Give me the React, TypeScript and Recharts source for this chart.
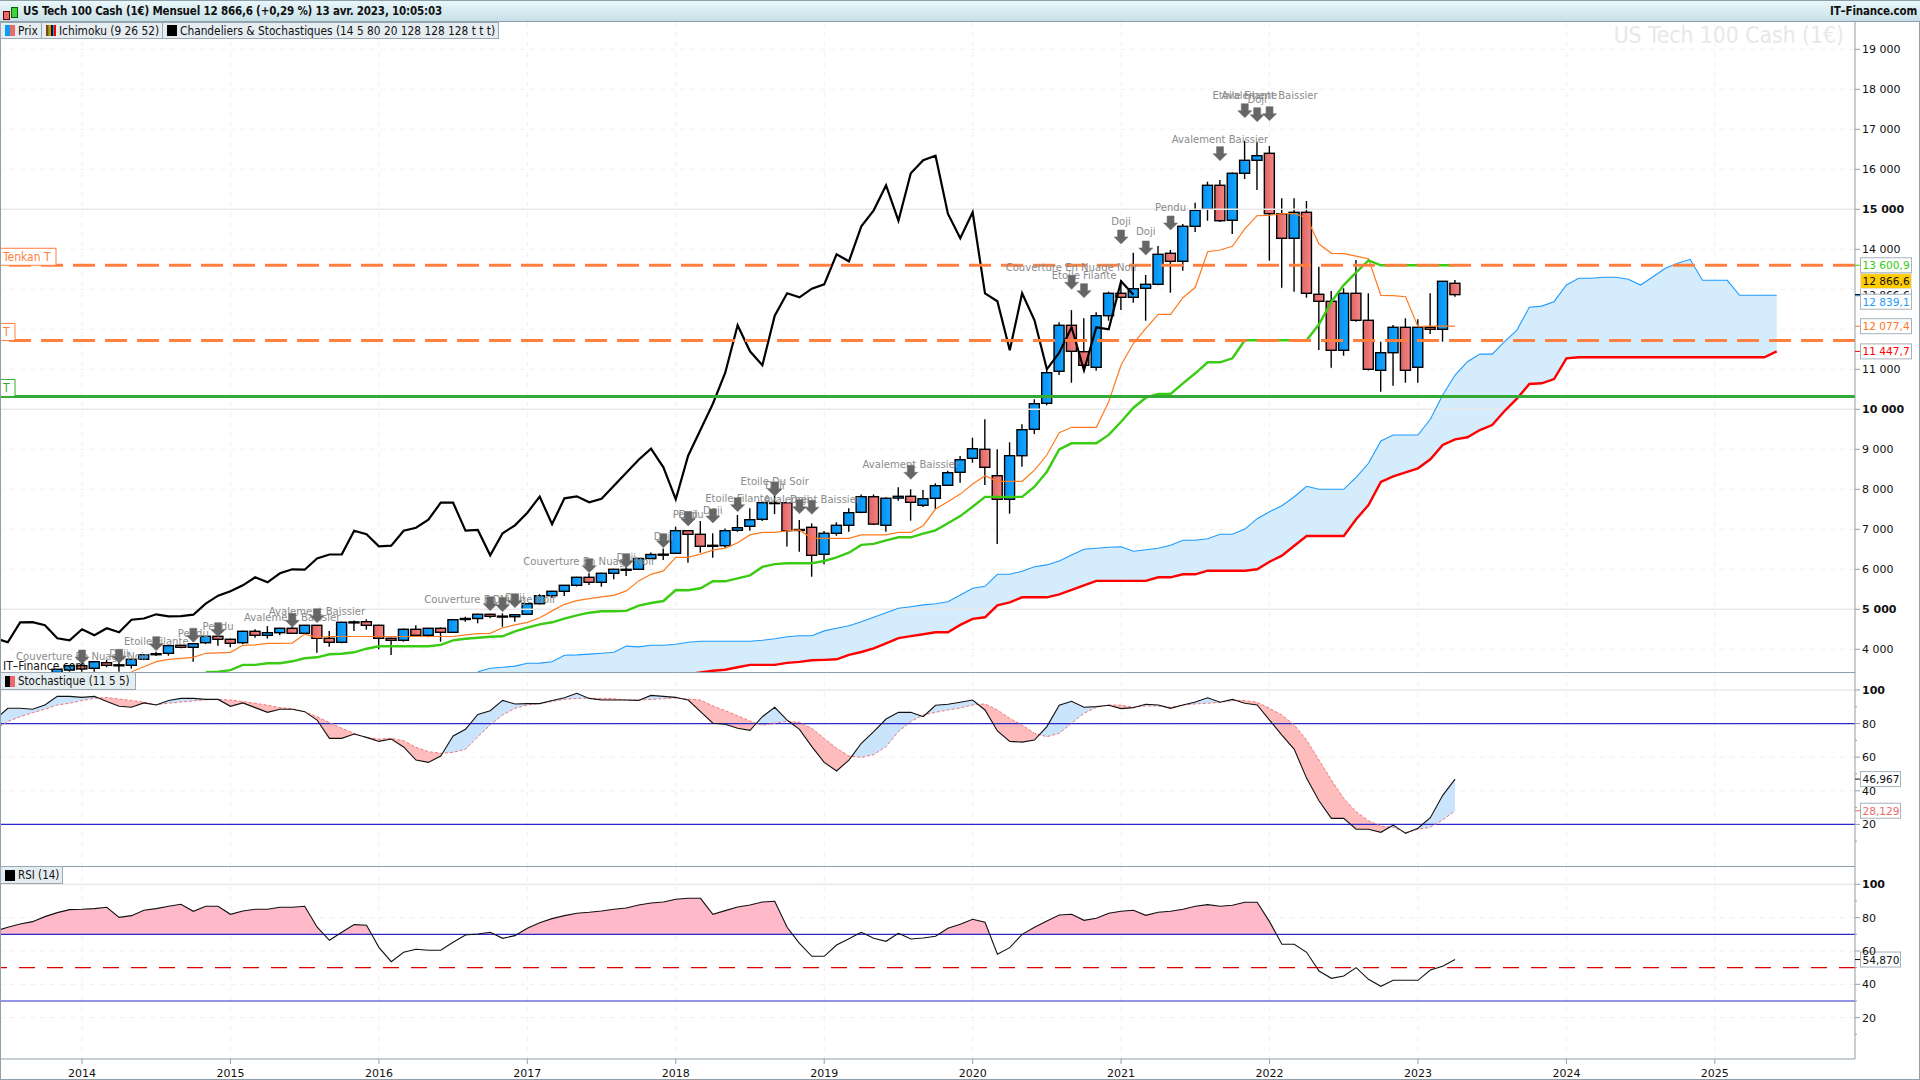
import React from "react";
import {
  Area, Bar, CartesianGrid, ComposedChart, Line, ReferenceDot, ReferenceLine, Scatter, XAxis, YAxis,
} from "recharts";

// months are counted from January 2014
const yearTicks = [0, 12, 24, 36, 48, 60, 72, 84, 96, 108, 120, 132];
const yearLabels = ["2014", "2015", "2016", "2017", "2018", "2019", "2020", "2021", "2022", "2023", "2024", "2025"];
const mainTicks = [4000, 5000, 6000, 7000, 8000, 9000, 10000, 11000, 14000, 15000, 16000, 17000, 18000, 19000];
const indicatorTicks = [10, 20, 30, 40, 50, 60, 70, 80, 90, 100];
const stochTicks = indicatorTicks;

const candleFirst = -2;
const opens = [3420,3480,3590,3525,3665,3608,3600,3750,3890,3900,4100,4050,4165,4325,4250,4165,4450,4350,4415,4525,4400,4600,4275,4175,4685,4690,4600,4275,4225,4500,4350,4525,4425,4745,4770,4875,4825,4815,4875,5140,5340,5450,5600,5800,5675,5900,6000,6000,6270,6375,6400,6965,6875,6600,6590,6975,7075,7250,7665,7665,6995,7050,6375,6900,7100,7425,7815,7100,7780,7825,7600,7775,8100,8425,8775,9000,8340,7750,8840,9500,10150,10950,12100,11440,11050,12340,12900,12800,13025,13125,13900,13700,14575,15000,15600,14725,15900,16225,16400,14890,14275,14925,12875,12700,11475,12900,12225,10975,11415,12050,11050,12050,12000,13150];
const closes = [3500,3590,3510,3690,3600,3612,3750,3865,3875,4090,4050,4140,4325,4250,4150,4450,4350,4415,4525,4400,4600,4275,4175,4675,4675,4600,4275,4225,4500,4350,4525,4425,4740,4770,4875,4825,4830,4865,5140,5340,5450,5600,5800,5675,5900,6000,5990,6270,6370,6378,6965,6875,6575,6590,6965,7040,7240,7665,7668,6965,6985,6350,6900,7100,7415,7815,7130,7775,7825,7675,7765,8090,8415,8740,9015,8550,7750,8840,9490,10140,10915,12100,11450,11100,12340,12900,12800,13015,13125,13875,13700,14575,14975,15600,14715,15900,16225,16340,14890,14275,14925,12900,12700,11475,12900,12225,11000,11415,12050,10975,12050,12000,13200,12866.6];
const highs = [3510,3610,3640,3700,3730,3730,3760,3875,3940,4100,4120,4150,4335,4340,4270,4465,4500,4580,4540,4570,4610,4610,4460,4690,4720,4750,4615,4290,4520,4600,4540,4545,4750,4815,4890,4890,4900,4880,5150,5375,5465,5610,5815,5900,5915,6015,6070,6285,6420,6520,7065,6980,7207,6900,7020,7357,7525,7680,7905,7680,7232,7150,6955,7175,7525,7870,7870,7800,8050,8000,7985,8150,8465,8830,9290,9750,9000,9175,9625,10250,11080,12175,12480,12275,12425,12940,13230,13915,13357,14085,13982,14635,15165,15690,15735,15920,16715,16690,16580,15275,15275,15207,13565,12960,13025,13730,12900,11690,12107,12275,12250,12900,13210,13235];
const lows = [3300,3440,3440,3440,3550,3440,3515,3730,3830,3840,4025,3690,4130,4090,4050,4130,4290,4270,4350,4390,4390,3915,4065,4150,4460,4490,4000,3860,4190,4310,4300,4190,4410,4690,4650,4775,4565,4690,4860,5120,5280,5335,5570,5610,5565,5750,5830,5990,6260,6230,6390,6165,6415,6290,6540,6940,6965,7210,7380,6567,6440,5815,6125,6840,6940,7400,7105,6940,7715,7215,7560,7500,8090,8165,8665,8110,6630,7390,8565,9380,10100,10860,10665,11000,10965,12215,12480,12665,12215,13100,12915,13465,14430,14715,14680,14380,15757,15480,13715,13040,12940,12790,11480,11040,11340,12190,10970,10440,10590,10665,10665,11880,11690,12815];

const tenkanFirst = 4;
const tenkan = [3440,3565,3690,3750,3775,3800,3900,3910,3925,4100,4110,4150,4150,4155,4380,4290,4320,4320,4320,4320,4320,4320,4320,4320,4320,4320,4320,4360,4390,4400,4540,4610,4675,4790,4960,5125,5215,5265,5310,5350,5460,5710,5875,5960,6300,6300,6380,6480,6530,6665,6860,6925,6925,6960,6985,6775,6775,6775,6775,6860,6860,6860,6925,6925,7090,7507,7690,7880,8130,8340,8200,8200,8200,8480,8857,9415,9550,9550,9550,10190,11107,11650,12025,12375,12375,12790,13050,13940,13982,14075,14510,14840,14850,14890,14890,14790,14130,13900,13890,13830,13765,12850,12840,12815,12065,12077,12077,12077];
const kijunFirst = 10;
const kijun = [3430,3440,3480,3610,3610,3650,3650,3700,3775,3800,3875,3890,3925,4015,4075,4075,4075,4075,4075,4110,4225,4265,4290,4315,4325,4450,4540,4625,4675,4765,4850,4915,4950,4950,4960,5090,5157,5207,5482,5475,5525,5700,5700,5775,5850,6060,6130,6150,6150,6150,6207,6300,6415,6610,6635,6725,6800,6800,6890,6975,7150,7330,7565,7810,7810,7810,7810,8065,8440,9000,9150,9150,9150,9360,9690,10040,10290,10382,10382,10650,10900,11175,11175,11275,11725,11725,11725,11725,11725,11725,12125,12690,13105,13425,13725,13600,13600,13600,13600,13600,13600,13600];
const chikouFirst = -7;
const chikou = [4275,4175,4675,4680,4600,4275,4225,4500,4350,4525,4425,4740,4770,4875,4825,4830,4865,5140,5340,5450,5600,5800,5675,5900,6000,5990,6270,6370,6375,6965,6875,6575,6590,6965,7040,7240,7665,7665,6965,6985,6350,6900,7100,7415,7815,7130,7775,7825,7675,7765,8090,8415,8740,9015,8550,7750,8840,9490,10140,10915,12100,11450,11100,12340,12900,12800,13015,13125,13875,13700,14575,14975,15600,14715,15900,16225,16340,14890,14275,14925,12900,12700,11475,12900,12225,11000,11415,12050,10975,12050,12000,13200,12866.6];
const spanAFirst = 32;
const spanA = [3440,3525,3550,3580,3650,3655,3690,3850,3860,3880,3900,3925,4080,4060,4100,4100,4125,4175,4200,4200,4200,4200,4200,4225,4265,4315,4340,4340,4460,4525,4590,4690,4800,4915,5025,5065,5110,5140,5190,5360,5525,5575,5875,5875,5950,6065,6110,6210,6360,6500,6525,6550,6565,6450,6490,6525,6600,6725,6725,6765,6875,6875,7005,7265,7440,7590,7815,8075,8000,8000,8000,8300,8650,9207,9357,9357,9357,9750,10357,10857,11190,11380,11380,11690,11980,12550,12580,12690,13107,13275,13275,13300,13300,13250,13107,13315,13525,13650,13750,13225,13225,13225,12850,12850,12850,12850];
const spanBFirst = 32;
const spanB = [2850,2860,2880,2900,2950,2970,3000,3020,3040,3100,3130,3160,3200,3230,3260,3300,3340,3380,3420,3465,3490,3550,3610,3610,3610,3660,3685,3725,3735,3750,3860,3932,4025,4150,4280,4330,4375,4425,4425,4610,4760,4800,5100,5175,5300,5300,5300,5375,5485,5600,5710,5710,5710,5710,5710,5800,5800,5875,5875,5965,5965,5965,5965,6000,6190,6340,6590,6832,6832,6832,6832,7250,7607,8182,8325,8425,8525,8750,9107,9250,9300,9482,9607,9957,10265,10632,10650,10757,11275,11300,11300,11300,11300,11300,11300,11300,11300,11300,11300,11300,11300,11300,11300,11300,11300,11447.7];

const patternMonths = [0,3,6,9,11,17,19,33,34,35,41,44,47,49,49,51,53,56,56,58,59,67,80,81,84,86,88,92,94,95,96];
const patternTips = [3632,3650,3966,4174,4316,4550,4666,4966,4940,5040,5916,6040,6540,7090,7090,7157,7440,7832,7832,7390,7375,8250,13000,12790,14133,13857,14482,16215,17290,17190,17215];
const patternLabelValues = [3833,3900,4208,4416,4583,4808,4958,5250,5250,5300,6200,6300,6833,7382,7382,7490,7780,8200,8107,7757,7757,8632,13550,13357,14707,14457,15057,16757,17857,17750,17857];
const patternTexts = ["Couverture En Nuage Noir","Doji","Etoile Filante","Pendu","Pendu","Avalement Baissier","Avalement Baissier","Couverture En Nuage Noir","Doji","Doji","Couverture En Nuage Noir","Doji","Doji","Pendu","Doji","Doji","Etoile Filante","Etoile Du Soir","Doji","Doji","Avalement Baissier","Avalement Baissier","Couverture En Nuage Noir","Etoile Filante","Doji","Doji","Pendu","Avalement Baissier","Etoile Filante","Doji","Avalement Baissier"];

const tenkanLevel = 13600.9;
const kijunLevel = 11722;
const greenLevel = 10322;

const stochFirst = -7;
const stochK = [82.5,89.1,89.1,88.5,91.1,96.2,96.2,95.6,96.2,93.1,90.3,89.7,92.3,91.1,93.8,95,95,94.4,94.4,90.3,92.3,89.5,86.7,88.5,88.5,87.1,82.1,71.2,71.2,73.8,71.8,69.4,70.8,66.1,58.3,56.9,60.7,72.6,76.6,85.5,87.7,93.8,91.7,91.9,91.9,93.7,95.4,98,95,94,94,94,93.8,96.8,96.2,95.6,94,87.1,80.2,79.6,77.2,76,84.1,89.7,82.1,76.6,66.3,56.9,51.8,58.3,68.3,75.2,82.7,86.7,86.7,84.1,90.9,91.5,92.7,94,88.1,75.6,69.4,69,70.2,78.2,90.9,93.3,89.7,90.1,90.9,88.9,89.5,91.5,91.1,89.1,91.1,92.9,95.4,92.7,94.4,92.1,91.1,82.1,73.2,64.7,47.4,34.1,23.6,23.6,17.1,17.1,15.3,19.6,14.7,17.7,24,37.3,46.967];
const stochD = [76.6,81.2,84.1,86.5,88.5,91.1,92.1,93.7,95,95.6,94.6,93.8,92.7,91.3,92.1,92.9,93.5,94.2,94.4,94,93.1,92.1,90.9,89.5,88.9,87.1,84.1,80.6,77.2,74.2,71.6,70.8,71.2,69.8,65.9,63.3,62.3,62.9,64.7,72.2,79.2,85.1,89.1,91.1,91.9,93.1,94.4,95,95,95,94.8,94,94,94.4,94.8,95.2,94.6,94,90.5,87.7,84.7,81.5,79,80.2,81.3,80.8,77.2,71.2,65.3,60.7,59.9,61.5,66.3,75.2,81.2,85.1,86.7,88.1,89.3,91.1,91.7,88.1,83.1,79.2,74.2,72.2,74.2,80.2,86.1,89.7,91.1,90.9,89.7,90.5,90.5,89.7,91.1,91.7,92.1,92.7,93.7,93.7,92.7,89.1,85.1,79.2,70.2,58.3,46.4,35.5,27.6,22.2,19,18.3,15.1,17.1,18.3,22.6,28.129];
const rsiFirst = -7;
const rsi = [72,74.2,76.2,77.6,80.6,83,84.8,85,85.4,86.2,80.2,81.2,84.4,85.4,86.8,88,83.8,86.8,86.8,82,84,85,85,86.2,86.2,86.8,74.4,66.4,71.2,75.8,75.4,62.2,53.6,59.2,61,60.4,60.4,65.2,69.6,70.2,71.2,67.6,69.2,73.6,77,79.4,81.2,82.6,83.2,84,85,85.8,87.6,88.8,89.4,91,91.6,91.6,82,84.2,86.4,87.6,89.4,89.8,74.2,64.6,56.8,56.8,63.6,67.4,71.2,67.6,65.8,70.6,67.2,67.8,68.8,73.6,76,79,77.2,58,62,70,74.2,78,81.6,82,78.4,79.6,82.6,83.8,84.4,81.4,83.2,83.8,85,86.8,87.8,86.8,87.4,89.2,89.2,77.6,64,64,59.2,48,43.6,45,50,43,38.8,42.4,42.4,42.4,48.6,50.8,54.87];
const rsiUpper = 70;
const rsiMiddle = 50;
const rsiLower = 30;
const stochUpper = 80;
const stochLower = 20;

const lastK = 46.967;
const lastD = 28.129;
const lastRsi = 54.87;
const lastClose = 12866.6;
const lastSpanA = 12839.1;
const lastTenkan = 12077.4;
const lastSpanB = 11447.7;
const lastKijun = 13600.9;

const lastMonth = 137;
const firstMonth = -7;
const xDomain = [-6.63, 143.33];

const at = (arr: number[], first: number, m: number) => {
  const v = arr[m - first];
  return v === undefined ? null : v;
};

const months: number[] = [];
for (let m = firstMonth; m <= lastMonth; m++) months.push(m);

const mainRows = months.map((m) => {
  const o = at(opens, candleFirst, m);
  const c = at(closes, candleFirst, m);
  const h = at(highs, candleFirst, m);
  const l = at(lows, candleFirst, m);
  const a = at(spanA, spanAFirst, m);
  const b = at(spanB, spanBFirst, m);
  return {
    m,
    open: o,
    close: c,
    high: h,
    low: l,
    candle: h === null ? null : [l, h],
    tenkan: at(tenkan, tenkanFirst, m),
    kijun: at(kijun, kijunFirst, m),
    chikou: at(chikou, chikouFirst, m),
    spanA: a,
    spanB: b,
    cloud: a === null || b === null ? null : [b, a],
  };
});

const patternRows = patternMonths.map((m, i) => ({ m, tip: patternTips[i], labelValue: patternLabelValues[i], text: patternTexts[i] }));

// rows of an indicator with extra rows where two of its curves cross, so the fills meet on the curves
function withCrossings(first: number, a: number[], b: (i: number) => number) {
  const rows: { m: number; a: number; b: number }[] = [];
  a.forEach((v, i) => {
    if (i > 0) {
      const d0 = a[i - 1] - b(i - 1);
      const d1 = v - b(i);
      if (d0 * d1 < 0) {
        const t = d0 / (d0 - d1);
        rows.push({ m: first + i - 1 + t, a: a[i - 1] + (v - a[i - 1]) * t, b: b(i - 1) + (b(i) - b(i - 1)) * t });
      }
    }
    rows.push({ m: first + i, a: v, b: b(i) });
  });
  return rows;
}

const stochRows = withCrossings(stochFirst, stochK, (i) => stochD[i]).map((r) => ({
  m: r.m, k: r.a, d: r.b, up: [r.b, Math.max(r.a, r.b)], down: [Math.min(r.a, r.b), r.b],
}));
const rsiRows = withCrossings(rsiFirst, rsi, () => rsiUpper).map((r) => ({
  m: r.m, rsi: r.a, over: [rsiUpper, Math.max(r.a, rsiUpper)],
}));

const axisFont = "'DejaVu Sans', sans-serif";
const uiFont = "'DejaVu Sans Condensed', 'Liberation Sans Narrow', 'DejaVu Sans', sans-serif";
const frame = "#8f9fa9";
const gridColor = "#f0f0f0";
const solidGrid = "#e9e9e9";

const fmt = (v: number) => String(v).replace(/\B(?=(\d{3})+$)/g, " ");

function AxisTick({ x, y, payload, bold, minor }: any) {
  const v = payload.value;
  const isMinor = minor && minor(v);
  return (
    <g>
      <line x1={x - 7} x2={x - 7 + (isMinor ? 2 : 5)} y1={y} y2={y} stroke="#8f9fa9" />
      {isMinor ? null : (
        <text x={x} y={y + 4} fontFamily={axisFont} fontSize={11} fontWeight={bold(v) ? 700 : 400} fill="#111">
          {fmt(v)}
        </text>
      )}
    </g>
  );
}

function YearTick({ x, y, payload }: any) {
  return (
    <g>
      <line x1={x} x2={x} y1={y - 8} y2={y - 3} stroke="#8f9fa9" />
      <text x={x} y={y + 10} textAnchor="middle" fontFamily={axisFont} fontSize={11} fill="#111">
        {yearLabels[yearTicks.indexOf(payload.value)]}
      </text>
    </g>
  );
}

function Candle(props: any) {
  const { x, y, width, height, payload } = props;
  if (!payload || payload.candle === null || payload.open === null) return null;
  const { open, close, high, low } = payload;
  const py = (v: number) => y + ((high - v) / (high - low)) * height;
  const up = close >= open;
  const top = py(Math.max(open, close));
  const bottom = py(Math.min(open, close));
  const cx = x + width / 2;
  return (
    <g>
      <line x1={cx} x2={cx} y1={y} y2={y + height} stroke="#000" strokeWidth={1.4} />
      <rect x={x} y={top} width={width} height={Math.max(bottom - top, 1)} fill={up ? "url(#blueBody)" : "url(#redBody)"} stroke="#000" strokeWidth={1.4} />
    </g>
  );
}

function Arrow({ cx, cy }: any) {
  return (
    <polygon
      points={`${cx - 3.5},${cy - 14} ${cx + 3.5},${cy - 14} ${cx + 3.5},${cy - 7} ${cx + 7},${cy - 7} ${cx},${cy} ${cx - 7},${cy - 7} ${cx - 3.5},${cy - 7}`}
      fill="#666"
      stroke="#777"
      strokeWidth={0.6}
    />
  );
}

function PatternLabel({ cx, cy, payload }: any) {
  return (
    <text x={cx} y={cy + 4} textAnchor="middle" fontFamily={uiFont} fontSize={11.2} fill="#8c8c8c">
      {payload.text}
    </text>
  );
}

function LevelBox({ cx, cy, label, color, width }: any) {
  return (
    <g>
      <rect x={cx} y={cy - 17} width={width} height={17} fill="#fff" stroke={color} />
      <text x={cx + 3} y={cy - 4} fontFamily={uiFont} fontSize={12} fill={color}>{label}</text>
    </g>
  );
}

function ValueTag({ cx, cy, text, color, dy = 0, w = 51, fill = "#f1f3f3", border = "#a5b3bb" }: any) {
  return (
    <g>
      <line x1={cx} x2={cx + 5} y1={cy} y2={cy} stroke={color} strokeWidth={1} />
      <rect x={cx + 5.5} y={cy + dy - 7.5} width={w} height={15} fill={fill} stroke={border} strokeWidth={1} />
      <text x={cx + 7.5} y={cy + dy + 4} fontFamily={axisFont} fontSize={10.6} fill={color}>{text}</text>
    </g>
  );
}

const Legend = ({ left, top, width, height, icon, text, size = 11.5 }: any) => (
  <div style={{ position: "absolute", left, top, width, height, boxSizing: "border-box", background: "#e5edf1", border: "1px solid #9aa9b3", display: "flex", alignItems: "center", fontFamily: uiFont, fontSize: size, color: "#111", whiteSpace: "nowrap", paddingLeft: 4 }}>
    <span style={{ display: "inline-flex", marginRight: 3 }}>
      {icon.map((c: string, i: number) => (
        <span key={i} style={{ display: "inline-block", width: 10 / icon.length, height: 11, background: c }} />
      ))}
    </span>
    {text}
  </div>
);

const Rule = ({ left, top, width, height }: any) => (
  <div style={{ position: "absolute", left, top, width, height, background: frame }} />
);

export default function App() {
  const xAxisHidden = <XAxis type="number" dataKey="m" domain={xDomain} ticks={yearTicks} hide allowDataOverflow />;
  return (
    <div style={{ position: "absolute", left: 0, top: 0, width: 1920, height: 1080, background: "#fff", overflow: "hidden" }}>
      <div style={{ position: "absolute", left: 0, top: 22 }}>
        <ComposedChart width={1920} height={650} data={mainRows} margin={{ top: 0, right: 0, bottom: 0, left: 0 }}>
          <defs>
            <linearGradient id="blueBody" x1="0" x2="1" y1="0" y2="0">
              <stop offset="0" stopColor="#0a8ff0" />
              <stop offset="1" stopColor="#12a6ff" />
            </linearGradient>
            <linearGradient id="redBody" x1="0" x2="1" y1="0" y2="0">
              <stop offset="0" stopColor="#dd6565" />
              <stop offset="1" stopColor="#f58585" />
            </linearGradient>
          </defs>
          <CartesianGrid stroke={gridColor} strokeDasharray="5 5" horizontalValues={mainTicks.concat([12000, 13000])} verticalValues={yearTicks} />
          {xAxisHidden}
          <YAxis orientation="right" type="number" width={65} domain={[3432.5, 19682.5]} ticks={mainTicks} interval={0} allowDataOverflow stroke={frame} tickSize={5} tickMargin={2} tickLine={false}
            tick={(p: any) => <AxisTick {...p} bold={(v: number) => v % 5000 === 0} />} />
          <ReferenceLine y={5000} stroke={solidGrid} strokeWidth={1.5} />
          <ReferenceLine y={10000} stroke={solidGrid} strokeWidth={1.5} />
          <ReferenceLine y={15000} stroke={solidGrid} strokeWidth={1.5} />
          <text x={1844} y={21} textAnchor="end" fontFamily={uiFont} fontSize={22.7} fill="#e8e8e8">US Tech 100 Cash (1€)</text>
          <Area dataKey="cloud" stroke="none" fill="#d4ecfc" fillOpacity={1} isAnimationActive={false} connectNulls={false} />
          <Line dataKey="spanA" stroke="#1e9bff" strokeWidth={1.1} dot={false} isAnimationActive={false} />
          <Line dataKey="spanB" stroke="#ff0000" strokeWidth={2.4} dot={false} isAnimationActive={false} />
          <Bar dataKey="candle" barSize={10} shape={Candle} isAnimationActive={false} />
          <Line dataKey="tenkan" stroke="#ff7a1f" strokeWidth={1.2} dot={false} isAnimationActive={false} />
          <Line dataKey="kijun" stroke="#3acb12" strokeWidth={2.4} dot={false} isAnimationActive={false} />
          <Line dataKey="chikou" stroke="#000" strokeWidth={2.2} dot={false} isAnimationActive={false} />
          <ReferenceLine y={tenkanLevel} stroke="#ff7f3f" strokeWidth={3} strokeDasharray="22 10" />
          <ReferenceLine y={kijunLevel} stroke="#ff7f3f" strokeWidth={3} strokeDasharray="22 10" />
          <ReferenceLine y={greenLevel} stroke="#33aa33" strokeWidth={3} />
          <Scatter data={patternRows} dataKey="labelValue" shape={PatternLabel} isAnimationActive={false} />
          <Scatter data={patternRows} dataKey="tip" shape={Arrow} isAnimationActive={false} />
          <ReferenceDot x={xDomain[0]} y={tenkanLevel} ifOverflow="visible" shape={(p: any) => <LevelBox {...p} label="Tenkan T" color="#ff7f3f" width={56} />} />
          <ReferenceDot x={xDomain[0]} y={kijunLevel} ifOverflow="visible" shape={(p: any) => <LevelBox {...p} label="T" color="#ff7f3f" width={15} />} />
          <ReferenceDot x={xDomain[0]} y={greenLevel} ifOverflow="visible" shape={(p: any) => <LevelBox {...p} label="T" color="#33aa33" width={15} />} />
          <ReferenceDot x={xDomain[1]} y={lastClose} ifOverflow="visible" shape={(p: any) => <ValueTag {...p} text="12 866,6" color="#111" />} />
          <ReferenceDot x={xDomain[1]} y={lastSpanA} ifOverflow="visible" shape={(p: any) => <ValueTag {...p} text="12 839,1" color="#1e9bff" dy={6} />} />
          <ReferenceDot x={xDomain[1]} y={lastClose} ifOverflow="visible" shape={(p: any) => <ValueTag {...p} text="12 866,6" color="#111" dy={-13.5} fill="#ffcc00" border="#e3e3e3" />} />
          <ReferenceDot x={xDomain[1]} y={lastKijun} ifOverflow="visible" shape={(p: any) => <ValueTag {...p} text="13 600,9" color="#33cc11" />} />
          <ReferenceDot x={xDomain[1]} y={lastTenkan} ifOverflow="visible" shape={(p: any) => <ValueTag {...p} text="12 077,4" color="#ff7722" />} />
          <ReferenceDot x={xDomain[1]} y={lastSpanB} ifOverflow="visible" shape={(p: any) => <ValueTag {...p} text="11 447,7" color="#ff0000" />} />
        </ComposedChart>
      </div>

      <div style={{ position: "absolute", left: 0, top: 672 }}>
        <ComposedChart width={1920} height={194} data={stochRows} margin={{ top: 0, right: 0, bottom: 0, left: 0 }}>
          <CartesianGrid stroke={gridColor} strokeDasharray="5 5" horizontalValues={[20, 40, 60, 80]} verticalValues={yearTicks} />
          {xAxisHidden}
          <YAxis orientation="right" type="number" width={65} domain={[-4.76, 110.71]} ticks={stochTicks} interval={0} allowDataOverflow stroke={frame} tickSize={5} tickMargin={2} tickLine={false}
            tick={(p: any) => <AxisTick {...p} bold={(v: number) => v === 100} minor={(v: number) => v % 20 !== 0} />} />
          <ReferenceLine y={100} stroke={solidGrid} strokeWidth={1.5} />
          <Area dataKey="up" stroke="none" fill="#c9e4fb" fillOpacity={1} isAnimationActive={false} />
          <Area dataKey="down" stroke="none" fill="#ffbcbc" fillOpacity={1} isAnimationActive={false} />
          <ReferenceLine y={stochUpper} stroke="#2a2acc" strokeWidth={1.2} />
          <ReferenceLine y={stochLower} stroke="#2a2acc" strokeWidth={1.2} />
          <Line dataKey="d" stroke="#ee7777" strokeWidth={1} strokeDasharray="3 2" dot={false} isAnimationActive={false} />
          <Line dataKey="k" stroke="#111" strokeWidth={1.1} dot={false} isAnimationActive={false} />
          <ReferenceDot x={xDomain[1]} y={lastK} ifOverflow="visible" shape={(p: any) => <ValueTag {...p} text="46,967" color="#111" w={40} />} />
          <ReferenceDot x={xDomain[1]} y={lastD} ifOverflow="visible" shape={(p: any) => <ValueTag {...p} text="28,129" color="#f06a6a" w={40} />} />
        </ComposedChart>
      </div>

      <div style={{ position: "absolute", left: 0, top: 866 }}>
        <ComposedChart width={1920} height={214} data={rsiRows} margin={{ top: 0, right: 0, bottom: 0, left: 0 }}>
          <CartesianGrid stroke={gridColor} strokeDasharray="5 5" horizontalValues={[20, 40, 60, 80]} verticalValues={yearTicks} />
          <XAxis type="number" dataKey="m" domain={xDomain} ticks={yearTicks} interval={0} allowDataOverflow height={21} tickSize={5} tickMargin={3} stroke={frame} tickLine={false} tick={(p: any) => <YearTick {...p} />} />
          <YAxis orientation="right" type="number" width={65} domain={[-4.8, 110.98]} ticks={indicatorTicks} interval={0} allowDataOverflow stroke={frame} tickSize={5} tickMargin={2} tickLine={false}
            tick={(p: any) => <AxisTick {...p} bold={(v: number) => v === 100} minor={(v: number) => v % 20 !== 0} />} />
          <ReferenceLine y={100} stroke={solidGrid} strokeWidth={1.5} />
          <Area dataKey="over" stroke="none" fill="#ffb9c9" fillOpacity={1} isAnimationActive={false} />
          <ReferenceLine y={rsiUpper} stroke="#2a2acc" strokeWidth={1.2} />
          <ReferenceLine y={rsiLower} stroke="#2a2acc" strokeWidth={1.2} />
          <ReferenceLine y={rsiMiddle} stroke="#e00000" strokeWidth={1.2} strokeDasharray="16 12" />
          <Line dataKey="rsi" stroke="#111" strokeWidth={1.1} dot={false} isAnimationActive={false} />
          <ReferenceDot x={xDomain[1]} y={lastRsi} ifOverflow="visible" shape={(p: any) => <ValueTag {...p} text="54,870" color="#111" w={40} />} />
        </ComposedChart>
      </div>

      {/* frame */}
      <Rule left={0} top={672} width={1855} height={1} />
      <Rule left={0} top={866} width={1855} height={1} />
      <Rule left={0} top={1079} width={1920} height={1} />
      <Rule left={0} top={22} width={1} height={1058} />
      <Rule left={1919} top={0} width={1} height={1080} />

      {/* header */}
      <div style={{ position: "absolute", left: 0, top: 0, width: 1920, height: 22, boxSizing: "border-box", borderTop: `1px solid ${frame}`, borderBottom: `1px solid ${frame}`, background: "linear-gradient(#e9f7fb,#c8dfe8)", fontFamily: uiFont, fontSize: 11.5, letterSpacing: -0.18, fontWeight: 700, color: "#111", lineHeight: "20px" }}>
        <span style={{ position: "absolute", left: 3, top: 10, width: 5, height: 7, background: "#e86a6a", border: "1px solid #600" }} />
        <span style={{ position: "absolute", left: 11, top: 6, width: 5, height: 9, background: "#44d040", border: "1px solid #060" }} />
        <span style={{ position: "absolute", left: 23, top: 0 }}>US Tech 100 Cash (1€) Mensuel 12 866,6 (+0,29 %) 13 avr. 2023, 10:05:03</span>
        <span style={{ position: "absolute", right: 3, top: 0 }}>IT–Finance.com</span>
      </div>
      <Legend left={0} top={22} width={42} height={17} icon={["#0f9cf5", "#e86a6a"]} text="Prix" size={11.8} />
      <Legend left={41} top={22} width={122} height={17} icon={["#7a4a10", "#33bb11", "#ff7a1f", "#111", "#1e9bff", "#ff0000"]} text="Ichimoku (9 26 52)" size={11.8} />
      <Legend left={162} top={22} width={337} height={17} icon={["#000"]} text="Chandeliers & Stochastiques (14 5 80 20 128 128 128 t t t)" size={11.8} />
      <Legend left={0} top={672} width={136} height={18} icon={["#000", "#e86a6a"]} text="Stochastique (11 5 5)" />
      <Legend left={0} top={866} width={63} height={18} icon={["#000"]} text="RSI (14)" />
      <div style={{ position: "absolute", left: 3, top: 659, fontFamily: uiFont, fontSize: 12, color: "#111" }}>IT–Finance.com</div>
    </div>
  );
}
